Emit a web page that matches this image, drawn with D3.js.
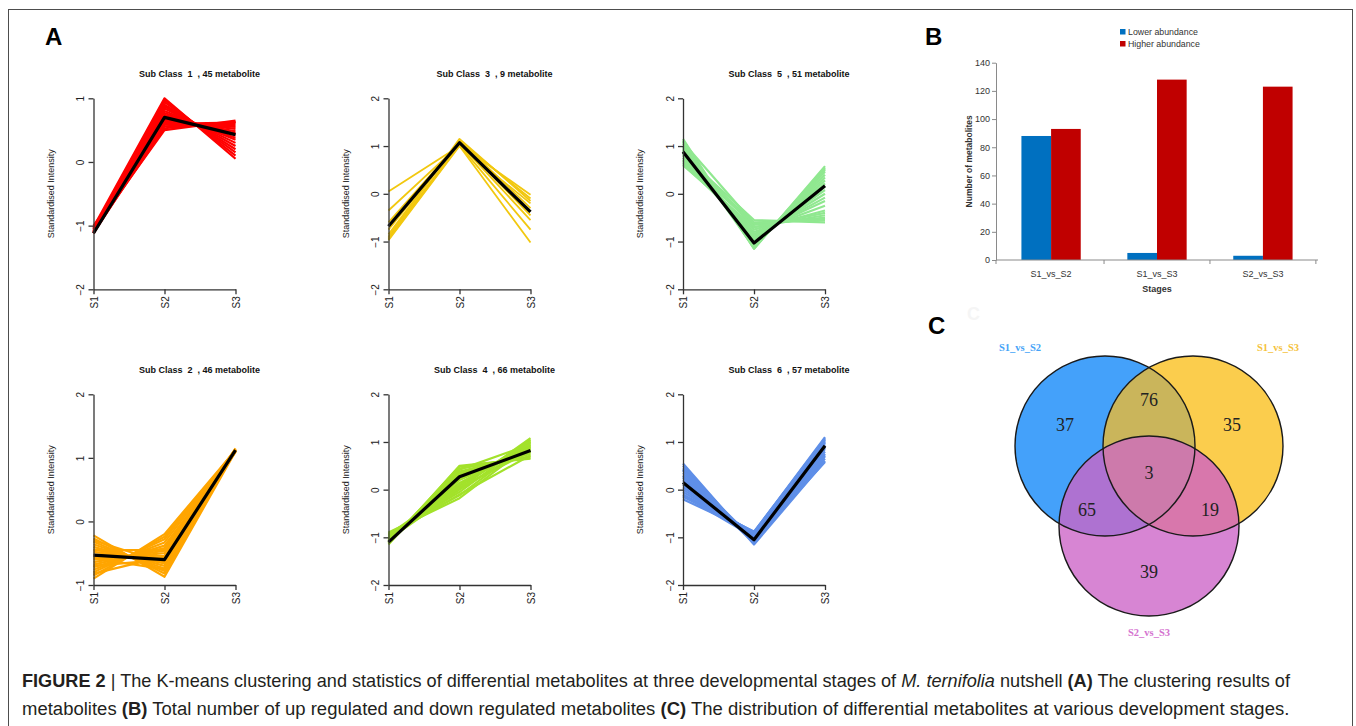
<!DOCTYPE html>
<html>
<head>
<meta charset="utf-8">
<script src="https://cdn.jsdelivr.net/npm/d3@7"></script>
<style>
  body { margin: 0; background: #fff; }
  svg { display: block; }
</style>
</head>
<body>
<svg id="fig" width="1356" height="726"></svg>
<script>
// ---------- Panel A: K-means sub-class profiles (standardised intensity at S1, S2, S3) ----------
const stages = ["S1", "S2", "S3"];
const clusterIds = [1, 3, 5, 2, 4, 6];
const clusterSizes = [45, 9, 51, 46, 66, 57];

const profiles1 = [
  [-1.02, 1.00, 0.05], [-1.05, 0.97, 0.10], [-1.10, 0.94, 0.15], [-1.08, 0.90, 0.20],
  [-1.12, 0.87, 0.25], [-1.04, 0.84, 0.30], [-1.09, 0.80, 0.35], [-1.11, 0.77, 0.38],
  [-1.06, 0.74, 0.42], [-1.12, 0.71, 0.45], [-1.03, 0.68, 0.48], [-1.10, 0.65, 0.52],
  [-1.07, 0.62, 0.55], [-1.12, 0.59, 0.58], [-1.00, 0.56, 0.61], [-1.09, 0.53, 0.63],
  [-1.05, 0.50, 0.65], [-1.11, 0.60, 0.62]
];
const centroid1 = [-1.12, 0.70, 0.43];

const profiles3 = [
  [0.05, 1.00, -0.20], [-0.35, 1.03, -0.02], [-0.60, 1.08, -0.45],
  [-0.75, 1.10, -0.10], [-0.85, 1.12, -0.30], [-0.90, 1.15, -0.15],
  [-0.92, 1.05, -0.55], [-0.95, 1.02, -0.75], [-0.97, 1.00, -1.02]
];
const centroid3 = [-0.68, 1.07, -0.38];

const profiles5 = [
  [1.15, -1.15, 0.58], [1.10, -1.12, 0.52], [1.05, -1.10, 0.46], [1.00, -1.08, 0.40],
  [0.95, -1.06, 0.34], [0.92, -1.03, 0.28], [0.88, -1.00, 0.22], [0.85, -0.98, 0.15],
  [0.80, -0.95, 0.08], [0.76, -0.92, 0.00], [0.72, -0.88, -0.08], [0.68, -0.84, -0.15],
  [0.65, -0.80, -0.25], [0.62, -0.75, -0.35], [0.60, -0.70, -0.45], [0.70, -0.65, -0.50],
  [0.75, -0.60, -0.55], [0.82, -0.55, -0.60], [1.12, -1.15, 0.55], [0.98, -1.13, 0.50],
  [1.08, -0.62, -0.52], [0.90, -0.70, -0.40]
];
const centroid5 = [0.88, -1.03, 0.17];

const profiles2 = [
  [-0.22, -0.87, 1.10], [-0.27, -0.82, 1.12], [-0.32, -0.78, 1.13], [-0.36, -0.74, 1.11],
  [-0.40, -0.70, 1.14], [-0.44, -0.66, 1.12], [-0.48, -0.62, 1.10], [-0.52, -0.58, 1.15],
  [-0.56, -0.54, 1.13], [-0.60, -0.50, 1.11], [-0.64, -0.46, 1.12], [-0.68, -0.42, 1.14],
  [-0.72, -0.38, 1.09], [-0.76, -0.33, 1.12], [-0.80, -0.28, 1.13], [-0.85, -0.24, 1.10],
  [-0.90, -0.20, 1.12], [-0.70, -0.60, 1.11], [-0.45, -0.45, 1.13], [-0.30, -0.65, 1.12],
  [-0.82, -0.55, 1.10], [-0.58, -0.75, 1.13]
];
const centroid2 = [-0.53, -0.60, 1.12];

const profiles4 = [
  [-0.90, -0.18, 0.95], [-0.92, -0.12, 1.00], [-0.94, -0.05, 1.05], [-0.96, 0.02, 1.08],
  [-0.98, 0.08, 0.98], [-1.00, 0.14, 0.92], [-1.02, 0.20, 0.88], [-1.04, 0.26, 0.84],
  [-1.06, 0.32, 0.80], [-1.08, 0.38, 0.75], [-1.10, 0.44, 0.70], [-1.12, 0.48, 0.67],
  [-1.15, 0.50, 0.65], [-1.13, 0.35, 0.78], [-0.95, 0.10, 1.02], [-1.05, 0.00, 0.90],
  [-1.07, 0.22, 0.86], [-1.11, 0.42, 0.95], [-0.97, -0.10, 0.72], [-1.03, 0.05, 0.80]
];
const centroid4 = [-1.10, 0.27, 0.82];

const profiles6 = [
  [0.55, -1.15, 0.60], [0.50, -1.12, 0.65], [0.45, -1.10, 0.70], [0.40, -1.08, 0.75],
  [0.35, -1.06, 0.80], [0.30, -1.04, 0.85], [0.25, -1.02, 0.88], [0.20, -1.00, 0.92],
  [0.15, -0.98, 0.95], [0.10, -0.96, 0.98], [0.05, -0.94, 1.02], [0.00, -0.92, 1.05],
  [-0.05, -0.90, 1.08], [-0.10, -0.89, 1.10], [-0.15, -0.88, 1.06], [-0.20, -0.90, 1.00],
  [0.42, -1.05, 0.58], [0.28, -1.12, 0.72], [-0.12, -1.00, 0.90]
];
const centroid6 = [0.15, -1.05, 0.92];

const yDomain1 = [-2, 1];
const yDomain2 = [-1, 2];
const yDomainDefault = [-2, 2];

// ---------- Panel B: up / down regulated counts ----------
const bCategories = ["S1_vs_S2", "S1_vs_S3", "S2_vs_S3"];
const lowerAbundance = [88, 5, 3];
const higherAbundance = [93, 128, 123];
const bTicks = [0, 20, 40, 60, 80, 100, 120, 140];
const bSeries = ["Lower abundance", "Higher abundance"];

// ---------- Panel C: Venn of differential metabolites ----------
const vennSets = ["S1_vs_S2", "S1_vs_S3", "S2_vs_S3"];
// only A, only B, only C, A∩B, A∩C, B∩C, A∩B∩C
const vennCounts = [37, 35, 39, 76, 65, 19, 3];

// =====================================================================
const svg = d3.select("#fig");
const FONT = "'Liberation Sans', Arial, sans-serif";
const SERIF = "'Liberation Serif', 'Times New Roman', serif";

svg.append("rect").attr("width", 1356).attr("height", 726).attr("fill", "#fff");
svg.append("rect")
  .attr("x", 8.5).attr("y", 9.5).attr("width", 1344).attr("height", 760)
  .attr("fill", "none").attr("stroke", "#4d4d4d").attr("stroke-width", 1);

// panel letters
const letters = [["A", 45, 45], ["B", 925, 45], ["C", 928, 334]];
svg.selectAll("text.letter").data(letters).join("text")
  .attr("class", "letter")
  .attr("x", d => d[1]).attr("y", d => d[2])
  .attr("font-family", FONT).attr("font-weight", "bold").attr("font-size", 24)
  .attr("fill", "#000").text(d => d[0]);
svg.append("text").attr("x", 967).attr("y", 320)
  .attr("font-family", FONT).attr("font-weight", "bold").attr("font-size", 18)
  .attr("fill", "#f5f5f5").text("C");

// ---------- Panel A ----------
const clusterProfiles = { 1: profiles1, 2: profiles2, 3: profiles3, 4: profiles4, 5: profiles5, 6: profiles6 };
const clusterCentroids = { 1: centroid1, 2: centroid2, 3: centroid3, 4: centroid4, 5: centroid5, 6: centroid6 };
const clusterColors = { 1: "#ff0000", 2: "#ffa500", 3: "#f2c80f", 4: "#a3e22b", 5: "#90e890", 6: "#5f8fe8" };
const clusterDomains = { 1: yDomain1, 2: yDomain2 };

const colX = [93.5, 388.5, 683];
const rowTop = [98.3, 394.3];
const rowBottom = [289.3, 585];
const plotW = 142;

clusterIds.forEach((id, i) => {
  const col = i % 3, row = Math.floor(i / 3);
  const left = colX[col], top = rowTop[row], bottom = rowBottom[row];
  const domain = clusterDomains[id] || yDomainDefault;
  const x = d3.scalePoint().domain(stages).range([left, left + plotW]);
  const y = d3.scaleLinear().domain(domain).range([bottom, top]);
  const line = d3.line().x((d, k) => x(stages[k])).y(d => y(d));
  const g = svg.append("g");

  g.append("g").selectAll("path").data(clusterProfiles[id]).join("path")
    .attr("d", line).attr("fill", "none")
    .attr("stroke", clusterColors[id]).attr("stroke-width", id === 3 ? 1.8 : 2.2)
    .attr("stroke-linejoin", "round");
  g.append("path").datum(clusterCentroids[id]).attr("d", line)
    .attr("fill", "none").attr("stroke", "#000").attr("stroke-width", 3.2)
    .attr("stroke-linejoin", "round");

  const ya = g.append("g").attr("transform", `translate(${left},0)`)
    .call(d3.axisLeft(y).tickValues(d3.range(domain[0], domain[1] + 1))
      .tickSize(5).tickSizeOuter(0).tickFormat(d3.format("d")));
  const xa = g.append("g").attr("transform", `translate(0,${bottom})`)
    .call(d3.axisBottom(x).tickSize(5).tickSizeOuter(0));
  [ya, xa].forEach(a => {
    a.attr("font-family", FONT).attr("font-size", 10);
    a.select(".domain").attr("stroke", "#333").attr("stroke-width", 1.3);
    a.selectAll(".tick line").attr("stroke", "#333").attr("stroke-width", 1.3);
    a.selectAll(".tick text").attr("fill", "#222").attr("x", null).attr("y", null).attr("dy", null);
  });
  ya.selectAll(".tick text").attr("text-anchor", "middle")
    .attr("transform", "translate(-9.5,0) rotate(-90)");
  xa.selectAll(".tick text").attr("text-anchor", "end")
    .attr("transform", "translate(3.5,7) rotate(-90)");

  g.append("text")
    .attr("x", left + 106).attr("y", top - 21)
    .attr("text-anchor", "middle").attr("font-family", FONT)
    .attr("font-weight", "bold").attr("font-size", 9).attr("fill", "#111")
    .attr("xml:space", "preserve")
    .text(`Sub Class  ${id}  , ${clusterSizes[i]} metabolite`);
  g.append("text")
    .attr("transform", `translate(${left - 40},${(top + bottom) / 2}) rotate(-90)`)
    .attr("text-anchor", "middle").attr("font-family", FONT)
    .attr("font-size", 9).attr("fill", "#222")
    .text("Standardised Intensity");
});

// ---------- Panel B ----------
{
  const axisColor = "#8a8a8a";
  const bx0 = d3.scaleBand().domain(bCategories).range([996, 1318])
    .paddingInner(0.44).paddingOuter(0.24);
  const bx1 = d3.scaleBand().domain(bSeries).range([0, bx0.bandwidth()]);
  const by = d3.scaleLinear().domain([0, 140]).range([260, 62.7]);
  const bColors = { "Lower abundance": "#0070c0", "Higher abundance": "#c00000" };
  const g = svg.append("g");

  const rows = bCategories.map((c, i) => ({ cat: c, vals: [lowerAbundance[i], higherAbundance[i]] }));
  g.selectAll("g.grp").data(rows).join("g").attr("class", "grp")
    .attr("transform", d => `translate(${bx0(d.cat)},0)`)
    .selectAll("rect").data(d => d.vals.map((v, k) => ({ s: bSeries[k], v })))
    .join("rect")
    .attr("x", d => bx1(d.s)).attr("width", bx1.bandwidth())
    .attr("y", d => by(d.v)).attr("height", d => by(0) - by(d.v))
    .attr("fill", d => bColors[d.s]);

  const x0 = bx0.range()[0], x1 = bx0.range()[1];
  // y axis
  const ya = g.append("g").attr("transform", `translate(${x0},0)`)
    .call(d3.axisLeft(by).tickValues(bTicks).tickSize(4).tickSizeOuter(0));
  ya.attr("font-family", FONT).attr("font-size", 9);
  ya.select(".domain").attr("stroke", axisColor);
  ya.selectAll(".tick line").attr("stroke", axisColor);
  ya.selectAll(".tick text").attr("fill", "#333").attr("x", -6);
  // x axis with boundary ticks
  g.append("line").attr("x1", x0).attr("x2", x1).attr("y1", by(0)).attr("y2", by(0))
    .attr("stroke", axisColor);
  const bounds = [x0].concat(bCategories.map(c => bx0(c) + bx0.bandwidth() / 2 + bx0.step() / 2));
  g.selectAll("line.bt").data(bounds).join("line").attr("class", "bt")
    .attr("x1", d => d).attr("x2", d => d).attr("y1", by(0)).attr("y2", by(0) + 4)
    .attr("stroke", axisColor);
  g.selectAll("text.cat").data(bCategories).join("text").attr("class", "cat")
    .attr("x", d => bx0(d) + bx0.bandwidth() / 2).attr("y", 277)
    .attr("text-anchor", "middle").attr("font-family", FONT).attr("font-size", 9)
    .attr("fill", "#333").text(d => d);
  g.append("text").attr("x", (x0 + x1) / 2).attr("y", 292)
    .attr("text-anchor", "middle").attr("font-family", FONT).attr("font-size", 9)
    .attr("font-weight", "bold").attr("fill", "#333").text("Stages");
  g.append("text").attr("transform", `translate(972,${(by(0) + by(140)) / 2}) rotate(-90)`)
    .attr("text-anchor", "middle").attr("font-family", FONT).attr("font-size", 8.5)
    .attr("font-weight", "bold").attr("fill", "#333").text("Number of metabolites");

  const lg = g.selectAll("g.leg").data(bSeries).join("g").attr("class", "leg")
    .attr("transform", (d, k) => `translate(1120,${29 + k * 12})`);
  lg.append("rect").attr("width", 5.5).attr("height", 5.5).attr("fill", d => bColors[d]);
  lg.append("text").attr("x", 8).attr("y", 6).attr("font-family", FONT)
    .attr("font-size", 8.8).attr("fill", "#333").text(d => d);
}

// ---------- Panel C ----------
{
  const g = svg.append("g");
  const r = 90;
  const centers = [[1105, 446], [1193, 446], [1149, 526]];
  const fills = ["#44a1fa", "#fbcd4d", "#d785d3"];
  const pairFills = { "01": "#cab55b", "02": "#ae72d1", "12": "#d877ac" };
  const tripleFill = "#cd7aab";
  const defs = svg.append("defs");
  centers.forEach((c, k) => {
    defs.append("clipPath").attr("id", "vc" + k)
      .append("circle").attr("cx", c[0]).attr("cy", c[1]).attr("r", r);
  });
  const circ = (sel, k, fill) => sel.append("circle")
    .attr("cx", centers[k][0]).attr("cy", centers[k][1]).attr("r", r).attr("fill", fill);

  circ(g, 0, fills[0]);
  circ(g, 1, fills[1]);
  circ(g.append("g").attr("clip-path", "url(#vc0)"), 1, pairFills["01"]);
  circ(g, 2, fills[2]);
  circ(g.append("g").attr("clip-path", "url(#vc2)"), 0, pairFills["02"]);
  circ(g.append("g").attr("clip-path", "url(#vc2)"), 1, pairFills["12"]);
  circ(g.append("g").attr("clip-path", "url(#vc2)").append("g").attr("clip-path", "url(#vc0)"), 1, tripleFill);
  centers.forEach((c, k) => circ(g, k, "none").attr("stroke", "#1a1a1a").attr("stroke-width", 1.4));

  // label positions for: only A, only B, only C, A∩B, A∩C, B∩C, all
  const spots = [[1065, 425], [1232, 425], [1149, 572], [1149, 400], [1087, 510], [1210, 510], [1149, 473]];
  g.selectAll("text.vn").data(vennCounts).join("text").attr("class", "vn")
    .attr("x", (d, k) => spots[k][0]).attr("y", (d, k) => spots[k][1] + 6)
    .attr("text-anchor", "middle").attr("font-family", SERIF).attr("font-size", 18)
    .attr("fill", "#222").text(d => d);

  const setLabelPos = [[1020, 351], [1278, 351], [1149, 636]];
  const setLabelCol = ["#46a3f7", "#f5c23b", "#d472cf"];
  g.selectAll("text.vs").data(vennSets).join("text").attr("class", "vs")
    .attr("x", (d, k) => setLabelPos[k][0]).attr("y", (d, k) => setLabelPos[k][1])
    .attr("text-anchor", "middle").attr("font-family", SERIF).attr("font-weight", "bold")
    .attr("font-size", 10.5).attr("fill", (d, k) => setLabelCol[k]).text(d => d);
}

// ---------- Caption ----------
{
  const lines = [
    [["FIGURE 2", "b"], [" | The K-means clustering and statistics of differential metabolites at three developmental stages of ", ""],
     ["M. ternifolia", "i"], [" nutshell ", ""], ["(A)", "b"], [" The clustering results of", ""]],
    [["metabolites ", ""], ["(B)", "b"], [" Total number of up regulated and down regulated metabolites ", ""],
     ["(C)", "b"], [" The distribution of differential metabolites at various development stages.", ""]]
  ];
  const baselines = [687, 715];
  const widths = [1269, 1268];
  lines.forEach((parts, li) => {
    const t = svg.append("text").attr("x", 0).attr("y", 0)
      .attr("font-family", FONT).attr("font-size", 18).attr("fill", "#231f20")
      .attr("xml:space", "preserve");
    parts.forEach(([s, st]) => {
      t.append("tspan")
        .attr("font-weight", st === "b" ? "bold" : null)
        .attr("font-style", st === "i" ? "italic" : null)
        .text(s);
    });
    const w = t.node().getComputedTextLength();
    t.attr("transform", `translate(22,${baselines[li]}) scale(${widths[li] / w},1)`);
  });
}
</script>
</body>
</html>
